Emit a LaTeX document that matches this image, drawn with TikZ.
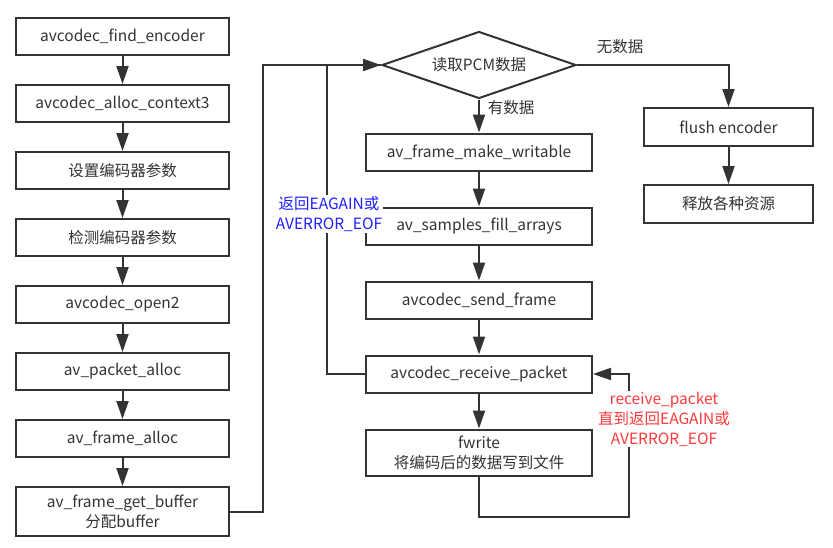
\documentclass[tikz,border=0pt]{standalone}
\usepackage{fontspec}
\setmainfont{Noto Sans CJK SC}
\usetikzlibrary{arrows.meta, positioning, shapes.geometric}

\definecolor{ink}{HTML}{333333}
\definecolor{noteblue}{HTML}{1F1FFF}
\definecolor{notered}{HTML}{FF3B3B}

\begin{document}
\begin{tikzpicture}[
    x=1pt, y=-1pt,
    node distance=28pt,
    font=\fontsize{15.5}{20}\selectfont,
    box/.style={draw=ink, line width=2pt, text=ink, align=center, minimum height=37pt, inner sep=2pt},
    decision/.style={diamond, aspect=2.9, draw=ink, line width=2pt, text=ink, minimum width=194pt, minimum height=67pt, inner sep=0pt},
    arrow/.style={-{Triangle[length=18pt, width=12pt]}, line width=2pt, draw=ink},
    line/.style={line width=2pt, draw=ink},
    lbl/.style={text=ink, inner sep=1pt},
    note/.style={fill=white, align=center, inner sep=1pt},
    ]
\useasboundingbox (0,0) rectangle (833,547);

% Colonne de gauche
\begin{scope}[every node/.append style={minimum width=213pt}]
\node[box] (find) at (122.5,36.5) {avcodec\_find\_encoder};
\node[box, below=of find] (ctx) {avcodec\_alloc\_context3};
\node[box, below=of ctx] (setpar) {设置编码器参数};
\node[box, below=of setpar] (checkpar) {检测编码器参数};
\node[box, below=of checkpar] (open) {avcodec\_open2};
\node[box, below=of open] (pkt) {av\_packet\_alloc};
\node[box, below=of pkt] (frame) {av\_frame\_alloc};
\node[box, below=of frame, minimum height=49pt] (getbuf) {av\_frame\_get\_buffer\\分配buffer};
\end{scope}

% Colonne du milieu
\node[decision] (read) at (479,65) {读取PCM数据};
\begin{scope}[node distance=35pt, every node/.append style={minimum width=226pt, minimum height=38pt}]
\node[box] (writable) at (479,152) {av\_frame\_make\_writable};
\node[box, below=of writable] (fill) {av\_samples\_fill\_arrays};
\node[box, below=of fill] (send) {avcodec\_send\_frame};
\node[box, below=of send] (recv) {avcodec\_receive\_packet};
\node[box, below=of recv, minimum height=46pt] (fwrite) {fwrite\\将编码后的数据写到文件};
\end{scope}

% Colonne de droite
\node[box, minimum width=169pt, minimum height=38pt] (flush) at (728.5,127) {flush encoder};
\node[box, minimum width=169pt, minimum height=38pt, below=37pt of flush] (release) {释放各种资源};

% Flèches principales
\draw[arrow] (find) -- (ctx);
\draw[arrow] (ctx) -- (setpar);
\draw[arrow] (setpar) -- (checkpar);
\draw[arrow] (checkpar) -- (open);
\draw[arrow] (open) -- (pkt);
\draw[arrow] (pkt) -- (frame);
\draw[arrow] (frame) -- (getbuf);

\draw[arrow] (read) -- (writable);
\draw[arrow] (writable) -- (fill);
\draw[arrow] (fill) -- (send);
\draw[arrow] (send) -- (recv);
\draw[arrow] (recv) -- (fwrite);

\draw[arrow] (read.east) -| (flush.north);
\draw[arrow] (flush) -- (release);

% Boucles
\draw[arrow] (getbuf.east) -- ++(33,0) |- (read.west);
\draw[line] (recv.west) -- ++(-38,0) |- (read.west);
\coordinate (turn) at (629,517);
\draw[arrow] (fwrite.south) |- (turn) |- (recv.east);

% Etiquettes
\node[lbl] (nodata) at (620,47) {无数据};
\node[lbl] (hasdata) at (511,108) {有数据};
\node[note, text=noteblue] (again) at (329,214) {返回EAGAIN或\\AVERROR\_EOF};
\node[note, text=notered] (untilagain) at (664,419) {receive\_packet\\直到返回EAGAIN或\\AVERROR\_EOF};

\end{tikzpicture}
\end{document}
